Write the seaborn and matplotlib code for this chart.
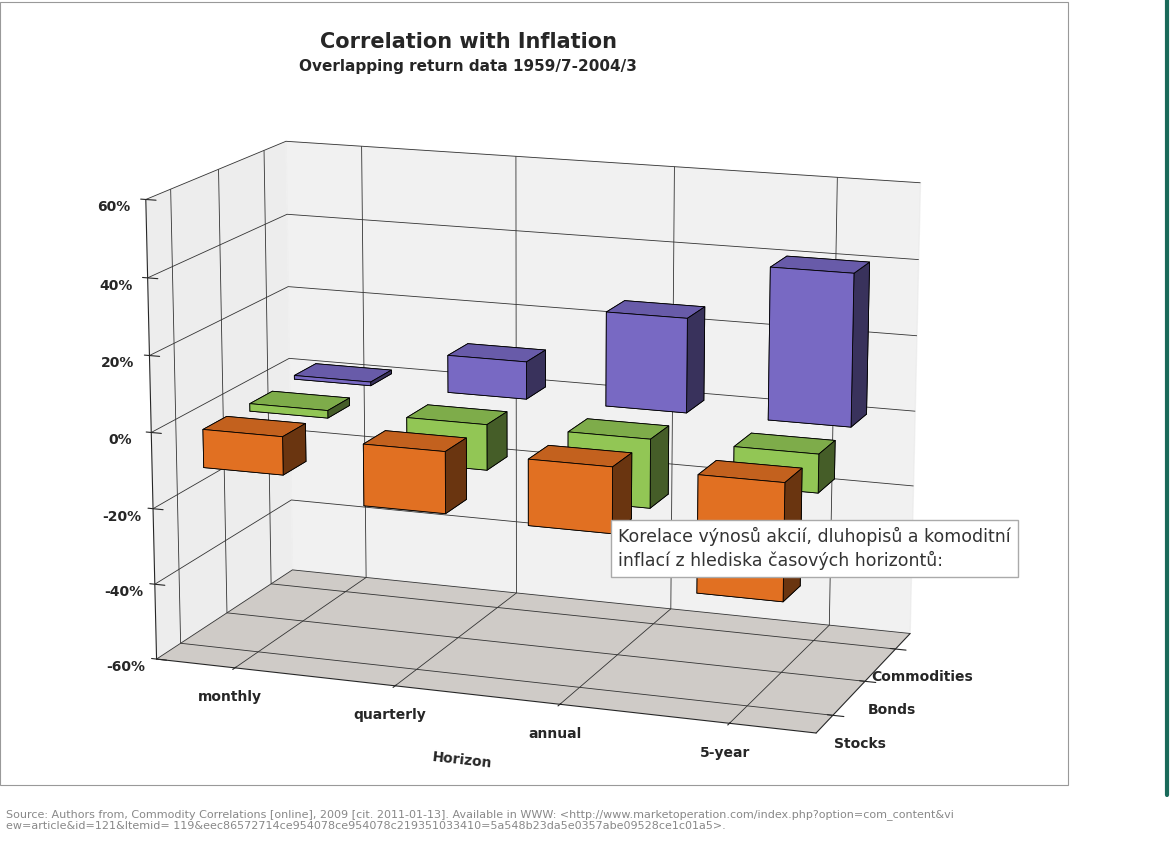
import numpy as np
import matplotlib
matplotlib.use("Agg")
import matplotlib.pyplot as plt
import seaborn as sns

sns.set_style("white")
plt.rcParams['font.family'] = ['DejaVu Sans']

# data (correlation in %)
horizons = ["monthly", "quarterly", "annual", "5-year"]
series = ["Stocks", "Bonds", "Commodities"]
stocks = [-10, -16, -17, -30]
bonds = [-2, -12, -18, -10]
commodities = [1, 10, 25, 40]
colors = ["#ff7f27", "#a5e060", "#8877dd"]
yticks = [-60, -40, -20, 0, 20, 40, 60]

fig = plt.figure(figsize=(11.71, 8.64), dpi=100)
ax = fig.add_axes([-0.04, 0.06, 0.98, 0.88], projection="3d")

values = [stocks, bonds, commodities]
dx, dy = 0.5, 0.5
for j, vals in enumerate(values):
    for i, v in enumerate(vals):
        z0 = min(0, v)
        ax.bar3d(i - dx / 2, j - dy / 2, z0, dx, dy, abs(v),
                 color=colors[j], edgecolor="black", linewidth=0.6, shade=True)

ax.set_xlim(-0.5, 3.5)
ax.set_ylim(-0.5, 2.5)
ax.set_zlim(-60, 60)
ax.set_xticks(range(len(horizons)))
ax.set_xticklabels(horizons, fontsize=10, fontweight="bold")
ax.set_yticks(range(len(series)))
ax.set_yticklabels(series, fontsize=10, fontweight="bold")
ax.set_zticks(yticks)
ax.set_zticklabels([f"{t}%" for t in yticks], fontsize=10, fontweight="bold")
ax.set_xlabel("Horizon", fontsize=10, fontweight="bold", labelpad=12)
ax.zaxis.pane.set_facecolor("#a09890")
ax.yaxis.pane.set_facecolor("#e4e4e4")
ax.xaxis.pane.set_facecolor("#dcdcdc")
for a in (ax.xaxis, ax.yaxis, ax.zaxis):
    a._axinfo["grid"]["color"] = "#333333"
    a._axinfo["grid"]["linewidth"] = 0.6
ax.zaxis._axinfo["juggled"] = (1, 2, 0)
ax.view_init(elev=14, azim=-70)
ax.set_box_aspect((2.2, 1.1, 1.5), zoom=1.15)

fig.text(0.40, 0.945, "Correlation with Inflation", ha="center",
         fontsize=15, fontweight="bold")
fig.text(0.40, 0.918, "Overlapping return data 1959/7-2004/3", ha="center",
         fontsize=11, fontweight="bold")

fig.text(0.528, 0.345, "Korelace výnosů akcií, dluhopisů a komoditní\ninflací z hlediska časových horizontů:",
         fontsize=12.5, color="#333333", linespacing=1.3,
         bbox=dict(boxstyle="square,pad=0.4", facecolor="white", edgecolor="#aaaaaa"))

fig.text(0.005, 0.04,
         "Source: Authors from, Commodity Correlations [online], 2009 [cit. 2011-01-13]. Available in WWW: "
         "<http://www.marketoperation.com/index.php?option=com_content&vi\n"
         "ew=article&id=121&Itemid= 119&eec86572714ce954078ce954078c219351033410=5a548b23da5e0357abe09528ce1c01a5>.",
         fontsize=8, color="#888888")

fig.add_artist(plt.Rectangle((0.0, 0.092), 0.912, 0.906, transform=fig.transFigure,
                             fill=False, edgecolor="#999999", linewidth=0.8))
fig.add_artist(plt.Line2D([0.997, 0.997], [0.08, 1.0], transform=fig.transFigure,
                          color="#1a6a5a", linewidth=3))

fig.savefig("out.png", dpi=100)
